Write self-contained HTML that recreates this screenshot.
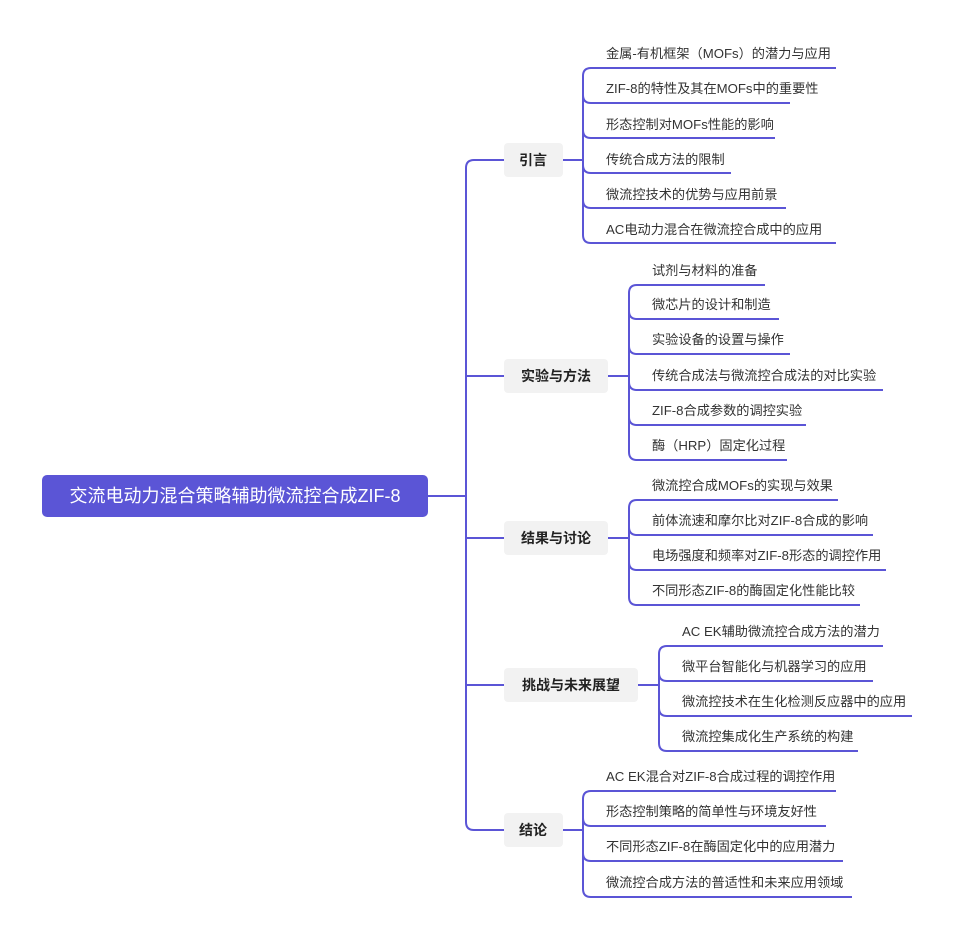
<!DOCTYPE html>
<html><head><meta charset="utf-8"><style>
body{margin:0;background:#fff;width:955px;height:939px;overflow:hidden}
svg text{font-family:"Liberation Sans","Noto Sans CJK SC",sans-serif}
</style></head><body>
<svg width="955" height="939" xmlns="http://www.w3.org/2000/svg">
<g fill="none" stroke="#5b55d6" stroke-width="2">
<path d="M428 496 H466"/>
<path d="M504 160 H474 Q466 160 466 168 V822 Q466 830 474 830 H504"/>
<path d="M466 376 H504 M466 538 H504 M466 685 H504"/>
</g>
<rect x="42" y="475" width="386" height="42" rx="5" fill="#5b55d6"/>
<text x="235" y="502" font-size="18" fill="#fff" text-anchor="middle">交流电动力混合策略辅助微流控合成ZIF-8</text>
<g font-size="14" font-weight="bold" fill="#222">
<rect x="504" y="143" width="59" height="34" rx="4" fill="#f2f2f2"/><text x="533" y="165" text-anchor="middle">引言</text>
<rect x="504" y="359" width="104" height="34" rx="4" fill="#f2f2f2"/><text x="556" y="381" text-anchor="middle">实验与方法</text>
<rect x="504" y="521" width="104" height="34" rx="4" fill="#f2f2f2"/><text x="556" y="543" text-anchor="middle">结果与讨论</text>
<rect x="504" y="668" width="134" height="34" rx="4" fill="#f2f2f2"/><text x="571" y="690" text-anchor="middle">挑战与未来展望</text>
<rect x="504" y="813" width="59" height="34" rx="4" fill="#f2f2f2"/><text x="533" y="835" text-anchor="middle">结论</text>
</g>
<g fill="none" stroke="#5b55d6" stroke-width="2">
<path d="M563 160 H583"/>
<path d="M836 68 H591 Q583 68 583 76 V235 Q583 243 591 243 H836"/>
<path d="M583 95 Q583 103 591 103 H790 M583 130 Q583 138 591 138 H775 M583 165 Q583 173 591 173 H731 M583 200 Q583 208 591 208 H786"/>
<path d="M608 376 H629"/>
<path d="M765 285 H637 Q629 285 629 293 V452 Q629 460 637 460 H787"/>
<path d="M629 311 Q629 319 637 319 H779 M629 346 Q629 354 637 354 H790 M629 382 Q629 390 637 390 H883 M629 417 Q629 425 637 425 H806"/>
<path d="M608 538 H629"/>
<path d="M838 500 H637 Q629 500 629 508 V597 Q629 605 637 605 H860"/>
<path d="M629 527 Q629 535 637 535 H873 M629 562 Q629 570 637 570 H886"/>
<path d="M638 685 H659"/>
<path d="M883 646 H667 Q659 646 659 654 V743 Q659 751 667 751 H858"/>
<path d="M659 673 Q659 681 667 681 H873 M659 708 Q659 716 667 716 H912"/>
<path d="M563 830 H583"/>
<path d="M836 791 H591 Q583 791 583 799 V889 Q583 897 591 897 H852"/>
<path d="M583 818 Q583 826 591 826 H826 M583 853 Q583 861 591 861 H843"/>
</g>
<g font-size="13.2" fill="#333">
<text x="606" y="58">金属-有机框架（MOFs）的潜力与应用</text>
<text x="606" y="93">ZIF-8的特性及其在MOFs中的重要性</text>
<text x="606" y="129">形态控制对MOFs性能的影响</text>
<text x="606" y="164">传统合成方法的限制</text>
<text x="606" y="199">微流控技术的优势与应用前景</text>
<text x="606" y="234">AC电动力混合在微流控合成中的应用</text>
<text x="652" y="275">试剂与材料的准备</text>
<text x="652" y="309">微芯片的设计和制造</text>
<text x="652" y="344">实验设备的设置与操作</text>
<text x="652" y="380">传统合成法与微流控合成法的对比实验</text>
<text x="652" y="415">ZIF-8合成参数的调控实验</text>
<text x="652" y="450">酶（HRP）固定化过程</text>
<text x="652" y="490">微流控合成MOFs的实现与效果</text>
<text x="652" y="525">前体流速和摩尔比对ZIF-8合成的影响</text>
<text x="652" y="560">电场强度和频率对ZIF-8形态的调控作用</text>
<text x="652" y="595">不同形态ZIF-8的酶固定化性能比较</text>
<text x="682" y="636">AC EK辅助微流控合成方法的潜力</text>
<text x="682" y="671">微平台智能化与机器学习的应用</text>
<text x="682" y="706">微流控技术在生化检测反应器中的应用</text>
<text x="682" y="741">微流控集成化生产系统的构建</text>
<text x="606" y="781">AC EK混合对ZIF-8合成过程的调控作用</text>
<text x="606" y="816">形态控制策略的简单性与环境友好性</text>
<text x="606" y="851">不同形态ZIF-8在酶固定化中的应用潜力</text>
<text x="606" y="887">微流控合成方法的普适性和未来应用领域</text>
</g>
</svg>
</body></html>
